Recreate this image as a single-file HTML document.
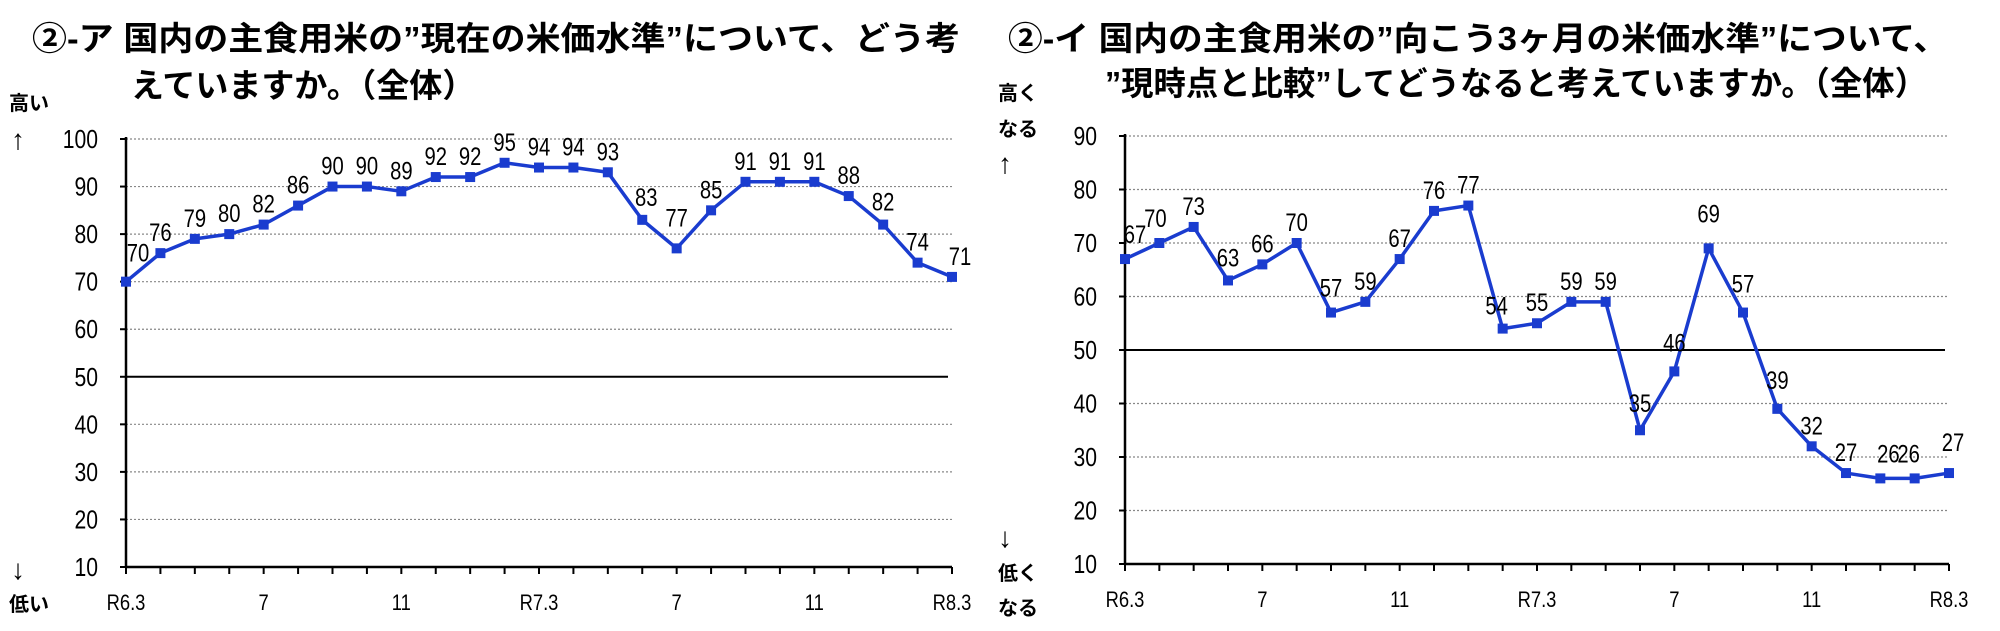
<!DOCTYPE html>
<html><head><meta charset="utf-8"><style>
html,body{margin:0;padding:0;background:#fff;overflow:hidden;}
svg{display:block;}
text{font-family:"Liberation Sans","Noto Sans CJK JP",sans-serif;}
</style></head><body>
<svg id="s" width="2000" height="631" xmlns="http://www.w3.org/2000/svg">
<g font-weight="bold" font-size="33" fill="#000">
<text x="32" y="50" textLength="928" lengthAdjust="spacingAndGlyphs">②-ア 国内の主食用米の”現在の米価水準”について、どう考</text>
<text x="131" y="97">えていますか。（全体）</text>
<text x="1008" y="50" textLength="940" lengthAdjust="spacingAndGlyphs">②-イ 国内の主食用米の”向こう3ヶ月の米価水準”について、</text>
<text x="1105" y="95" textLength="822" lengthAdjust="spacingAndGlyphs">”現時点と比較”してどうなると考えていますか。（全体）</text>
</g>
<g font-weight="bold" font-size="20" fill="#000">
<text x="9" y="110">高い</text>
<text x="9" y="611">低い</text>
<text x="998" y="100">高く</text>
<text x="998" y="136">なる</text>
<text x="998" y="580">低く</text>
<text x="998" y="615">なる</text>
</g>
<g font-size="28" fill="#000" font-family="DejaVu Sans, sans-serif">
<text x="11" y="149">↑</text>
<text x="11" y="579">↓</text>
<text x="998" y="173">↑</text>
<text x="998" y="547">↓</text>
</g>
<g id="c"></g>
</svg>
<script>
var g=document.getElementById('c'),h='';
function T(x,y,s,fs,anchor){return '<text x="'+x+'" y="'+y+'" font-size="'+fs+'" text-anchor="'+anchor+'" transform="translate('+x+' '+y+') scale(0.92 1.12) translate('+(-x)+' '+(-y)+')">'+s+'</text>';}
function chart(x0,x1,yTop,yBot,vmax,vmin,data,offs){
  var n=data.length,dx=(x1-x0)/(n-1);
  function Y(v){return yTop+(vmax-v)/(vmax-vmin)*(yBot-yTop);}
  for(var v=vmin;v<=vmax;v+=10){
    var y=Y(v);
    if(v==50) h+='<line x1="'+x0+'" x2="'+(x1-4)+'" y1="'+y+'" y2="'+y+'" stroke="#000" stroke-width="2"/>';
    else if(v>vmin) h+='<line x1="'+x0+'" x2="'+x1+'" y1="'+y+'" y2="'+y+'" stroke="#888" stroke-width="1.2" stroke-dasharray="2,2"/>';
    h+='<line x1="'+(x0-6)+'" x2="'+x0+'" y1="'+y+'" y2="'+y+'" stroke="#000" stroke-width="2"/>';
    h+=T(x0-28,y+9,v,23,'end');
  }
  h+='<line x1="'+x0+'" x2="'+x0+'" y1="'+(yTop-2)+'" y2="'+yBot+'" stroke="#000" stroke-width="2.5"/>';
  h+='<line x1="'+x0+'" x2="'+x1+'" y1="'+yBot+'" y2="'+yBot+'" stroke="#000" stroke-width="2.5"/>';
  for(var i=0;i<n;i++){var x=x0+i*dx;h+='<line x1="'+x+'" x2="'+x+'" y1="'+yBot+'" y2="'+(yBot+7)+'" stroke="#000" stroke-width="2"/>';}
  var labs={0:'R6.3',4:'7',8:'11',12:'R7.3',16:'7',20:'11',24:'R8.3'};
  for(var k in labs){var x=x0+k*dx;h+=T(x,yBot+43,labs[k],20,'middle');}
  var p='';
  for(var i=0;i<n;i++){p+=(i?'L':'M')+(x0+i*dx)+','+Y(data[i]);}
  h+='<path d="'+p+'" fill="none" stroke="#1a3ccf" stroke-width="3.5" stroke-linejoin="round"/>';
  for(var i=0;i<n;i++){var x=x0+i*dx,y=Y(data[i]);
    h+='<rect x="'+(x-5)+'" y="'+(y-5)+'" width="10" height="10" fill="#1a3ccf"/>';
    var o=offs[i]||[0,-12];
    h+=T(x+o[0],y+o[1],data[i],22,'middle');}
}
var d1=[70,76,79,80,82,86,90,90,89,92,92,95,94,94,93,83,77,85,91,91,91,88,82,74,71];
var o1={0:[12,-20],15:[4,-14],16:[0,-22],22:[0,-14],24:[8,-12]};
chart(126,952,139,567,100,10,d1,o1);
var d2=[67,70,73,63,66,70,57,59,67,76,77,54,55,59,59,35,46,69,57,39,32,27,26,26,27];
var o2={0:[10,-16],1:[-4,-16],3:[0,-14],6:[0,-16],11:[-6,-14],15:[0,-18],16:[0,-20],17:[0,-26],18:[0,-20],19:[0,-20],20:[0,-12],22:[8,-16],23:[-6,-16],24:[4,-22]};
chart(1125,1949,136,564,90,10,d2,o2);
g.innerHTML=h;
</script>
</body></html>
